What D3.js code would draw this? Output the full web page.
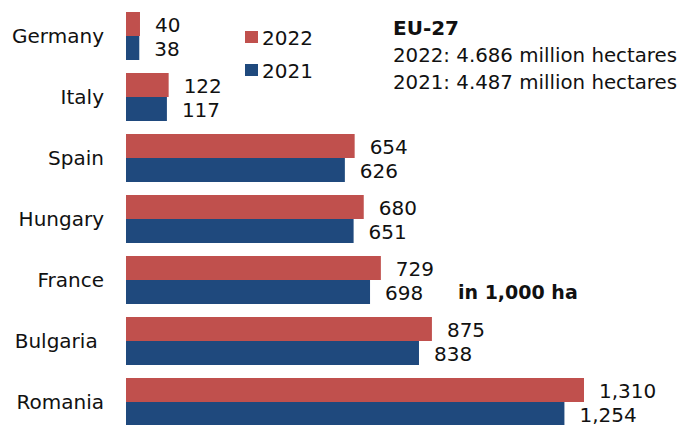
<!DOCTYPE html>
<html><head><meta charset="utf-8">
<script src="https://cdn.jsdelivr.net/npm/d3@7"></script>
<style>body{margin:0;background:#fff}svg{display:block}text{font-family:"DejaVu Sans",sans-serif;fill:#111}</style>
</head><body>
<script>
const countries = ["Germany","Italy","Spain","Hungary","France","Bulgaria","Romania"];
const values2022 = [40,122,654,680,729,875,1310];
const values2021 = [38,117,626,651,698,838,1254];
const seriesNames = ["2022","2021"];
const colors = ["#C0504D","#1F497D"];
const labelFmt = d3.format(",");

const W=684,H=425;
const svg=d3.select("body").append("svg").attr("width",W).attr("height",H);
const x=d3.scaleLinear().domain([0,1310]).range([126,584]);
const y=d3.scaleBand().domain(countries).range([12,426]).paddingInner(13/61).paddingOuter(0);
const sub=d3.scaleBand().domain(seriesNames).range([0,y.bandwidth()]);

const data=countries.map((c,i)=>({c,vals:[values2022[i],values2021[i]]}));
const g=svg.append("g");
const grp=g.selectAll("g.grp").data(data).join("g").attr("transform",d=>`translate(0,${y(d.c)})`);
grp.selectAll("rect").data(d=>d.vals.map((v,k)=>({v,k}))).join("rect")
  .attr("x",x(0)).attr("y",d=>sub(seriesNames[d.k]))
  .attr("width",d=>x(d.v)-x(0)).attr("height",sub.bandwidth())
  .attr("fill",d=>colors[d.k]);
grp.selectAll("text.val").data(d=>d.vals.map((v,k)=>({v,k}))).join("text")
  .attr("class","val")
  .attr("x",d=>x(d.v)+15).attr("y",d=>sub(seriesNames[d.k])+sub.bandwidth()/2+1)
  .attr("dominant-baseline","central").attr("font-size",20)
  .text(d=>labelFmt(d.v));
grp.append("text").attr("x",104).attr("y",y.bandwidth()/2)
  .attr("text-anchor","end").attr("dominant-baseline","central").attr("font-size",20)
  .text(d=>d.c==="Bulgaria"?"Bulgaria\u00a0":d.c);

// legend
const leg=svg.append("g");
seriesNames.forEach((s,i)=>{
  leg.append("rect").attr("x",245).attr("y",31+i*33).attr("width",13).attr("height",12).attr("fill",colors[i]);
  leg.append("text").attr("x",262).attr("y",37+i*33+1).attr("dominant-baseline","central").attr("font-size",20).text(s);
});

// EU-27 note
svg.append("text").attr("x",393).attr("y",35).attr("font-size",20).attr("font-weight","bold").text("EU-27");
svg.append("text").attr("x",393).attr("y",62).attr("font-size",19.8).text("2022: 4.686 million hectares");
svg.append("text").attr("x",393).attr("y",89).attr("font-size",19.8).text("2021: 4.487 million hectares");
svg.append("text").attr("x",458).attr("y",299).attr("font-size",19).attr("font-weight","bold").text("in 1,000 ha");
</script>
</body></html>
